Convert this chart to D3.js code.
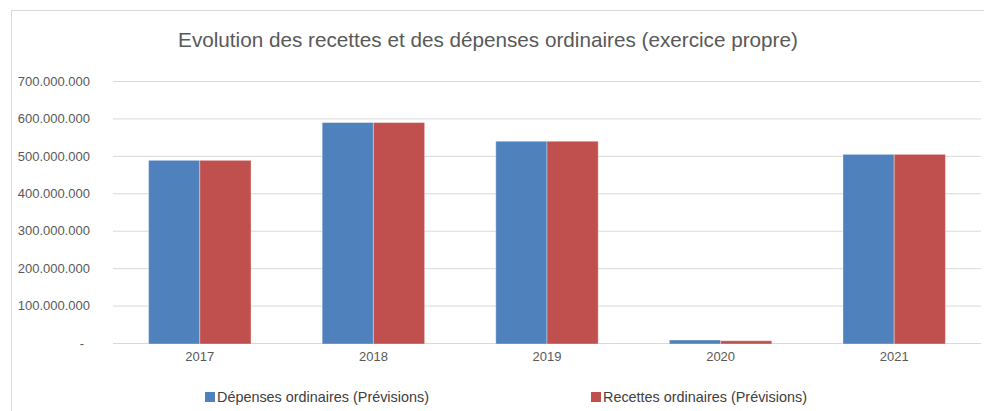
<!DOCTYPE html>
<html>
<head>
<meta charset="utf-8">
<script src="https://cdn.jsdelivr.net/npm/d3@7"></script>
<style>
  body { margin: 0; background: #fff; }
  svg { font-family: "Liberation Sans", Arial, sans-serif; }
</style>
</head>
<body>
<svg id="chart" width="984" height="411"></svg>
<script>
const years = ['2017', '2018', '2019', '2020', '2021'];
const depenses = [488000000, 589000000, 539000000, 8000000, 504000000];
const recettes = [488000000, 589000000, 539000000, 6000000, 504000000];
const seriesNames = ['Dépenses ordinaires (Prévisions)', 'Recettes ordinaires (Prévisions)'];
const seriesColors = ['#4f81bd', '#c0504d'];
const yTicks = [0, 100000000, 200000000, 300000000, 400000000, 500000000, 600000000, 700000000];

const margin = { top: 81, right: 3, bottom: 68, left: 113 };
const width = 984 - margin.left - margin.right;
const height = 411 - margin.top - margin.bottom;

const svg = d3.select('#chart');

// chart frame
svg.append('rect')
    .attr('x', 11.5).attr('y', 10.5)
    .attr('width', 990).attr('height', 420)
    .attr('fill', 'none')
    .attr('stroke', '#d9d9d9');

svg.append('text')
    .attr('x', 488).attr('y', 47)
    .attr('text-anchor', 'middle')
    .attr('font-size', 20.7)
    .attr('fill', '#595959')
    .text('Evolution des recettes et des dépenses ordinaires (exercice propre)');

const g = svg.append('g')
    .attr('transform', `translate(${margin.left}, ${margin.top})`);

const xScale = d3.scaleBand()
    .domain(years)
    .range([0, width])
    .paddingInner(0.41)
    .paddingOuter(0.205);

const xSub = d3.scaleBand()
    .domain([0, 1])
    .range([0, xScale.bandwidth()]);

const yScale = d3.scaleLinear()
    .domain([0, 700000000])
    .range([height, 0]);

const fmt = v => v === 0 ? '-' : d3.format(',')(v).replace(/,/g, '.');

const yAxis = d3.axisLeft(yScale)
    .tickValues(yTicks)
    .tickSize(-width)
    .tickPadding(23)
    .tickFormat(fmt);

g.append('g')
    .attr('class', 'yAxis')
    .call(yAxis)
    .call(a => a.select('.domain').remove())
    .call(a => a.selectAll('.tick line').attr('stroke', '#d9d9d9'))
    .call(a => a.selectAll('.tick text')
        .attr('fill', '#595959')
        .attr('font-size', 13)
        .attr('dx', d => d === 0 ? -6 : 0));

const xAxis = d3.axisBottom(xScale).tickSize(0).tickPadding(9);
g.append('g')
    .attr('class', 'xAxis')
    .attr('transform', `translate(0,${height})`)
    .call(xAxis)
    .call(a => a.select('.domain').remove())
    .call(a => a.selectAll('.tick text').attr('fill', '#595959').attr('font-size', 13));

const rows = years.map((y, i) => ({ year: y, values: [depenses[i], recettes[i]] }));

const groups = g.selectAll('.group')
    .data(rows)
    .enter()
    .append('g')
    .attr('class', 'group')
    .attr('transform', d => `translate(${xScale(d.year)},0)`);

groups.selectAll('rect')
    .data(d => d.values.map((v, k) => ({ k, v })))
    .enter()
    .append('rect')
    .attr('x', d => xSub(d.k))
    .attr('width', xSub.bandwidth())
    .attr('y', d => yScale(d.v))
    .attr('height', d => yScale(0) - yScale(d.v) + 1)
    .attr('fill', d => seriesColors[d.k])
    .attr('stroke', 'rgba(255,255,255,0.35)')
    .attr('stroke-width', 1);

// legend
const legendX = [205, 591];
const legend = svg.selectAll('.legend')
    .data(seriesNames)
    .enter()
    .append('g')
    .attr('class', 'legend')
    .attr('transform', (d, i) => `translate(${legendX[i]}, 392)`);

legend.append('rect')
    .attr('width', 10).attr('height', 10)
    .attr('fill', (d, i) => seriesColors[i]);

legend.append('text')
    .attr('x', 12).attr('y', 10)
    .attr('font-size', 14.4)
    .attr('fill', '#404040')
    .text(d => d);
</script>
</body>
</html>
